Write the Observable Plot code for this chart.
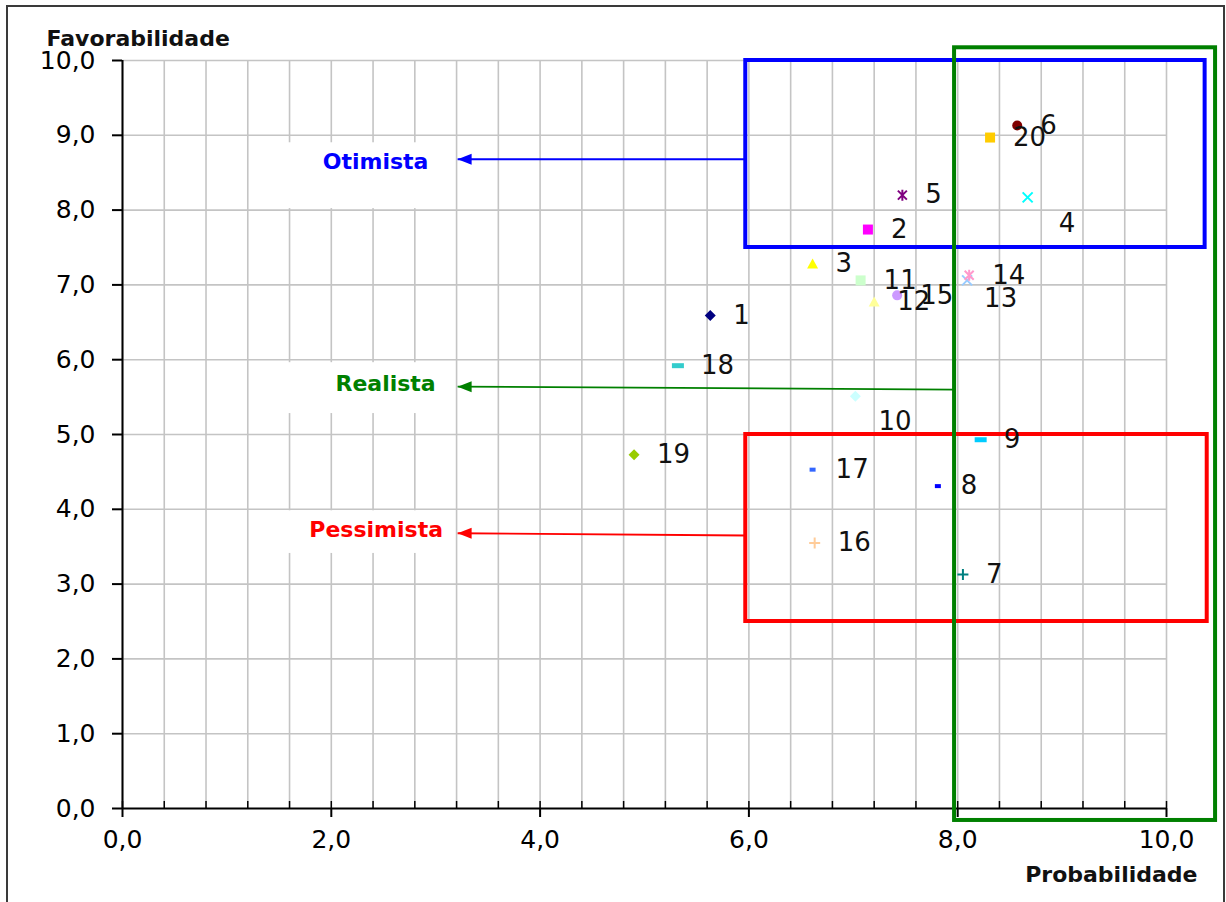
<!DOCTYPE html>
<html><head><meta charset="utf-8">
<script src="https://cdn.jsdelivr.net/npm/d3@7"></script>
<script src="https://cdn.jsdelivr.net/npm/@observablehq/plot@0.6"></script>
<style>
body{margin:0;background:#fff;}
#wrap{position:relative;width:1226px;height:902px;overflow:hidden;background:#fff;}
#borda{position:absolute;left:6px;top:5px;width:1219px;height:910px;border:2px solid #3a3a3a;box-sizing:border-box;pointer-events:none;}
</style></head>
<body><div id="wrap"><div id="borda"></div></div>
<script>
// ---- data ----
const series = ["1","2","3","4","5","6","7","8","9","10","11","12","13","14","15","16","17","18","19","20"];
const probabilidade = [5.63, 7.14, 6.61, 8.67, 7.47, 8.57, 8.05, 7.81, 8.22, 7.02, 7.07, 7.20, 8.09, 8.11, 7.42, 6.63, 6.61, 5.32, 4.90, 8.31];
const favorabilidade = [6.59, 7.74, 7.28, 8.17, 8.20, 9.13, 3.13, 4.31, 4.93, 5.51, 7.06, 6.77, 7.06, 7.13, 6.86, 3.55, 4.53, 5.92, 4.73, 8.97];
const ticksX = [0, 2, 4, 6, 8, 10];
const ticksY = [0, 1, 2, 3, 4, 5, 6, 7, 8, 9, 10];
const cenarios = ["Otimista", "Realista", "Pessimista"];
// scenario regions (data units) and the arrows to their names
const regioes = [
  {x1: 5.97, x2: 10.37, y1: 7.5, y2: 10.0},
  {x1: 5.97, x2: 10.39, y1: 2.5, y2: 5.0},
  {x1: 7.97, x2: 10.47, y1: -0.16, y2: 10.17}
];
const setas = [
  {x1: 5.97, y1: 8.68, x2: 3.21, y2: 8.68},
  {x1: 7.97, y1: 5.60, x2: 3.21, y2: 5.64},
  {x1: 5.97, y1: 3.65, x2: 3.21, y2: 3.68}
];
const posNomes = [{x: 2.93, y: 8.64}, {x: 3.00, y: 5.68}, {x: 3.07, y: 3.72}];
const fundosNomes = [
  {x1: 1.23, x2: 3.16, y1: 8.02, y2: 8.90},
  {x1: 1.23, x2: 3.16, y1: 5.28, y2: 5.96},
  {x1: 1.23, x2: 3.16, y1: 3.41, y2: 3.98}
];

// ---- styles ----
const cores = ["#000080","#FF00FF","#FFFF00","#00FFFF","#800080","#800000","#008080","#0000FF","#00CCFF","#CCFFFF",
               "#CCFFCC","#FFFF99","#99CCFF","#FF99CC","#CC99FF","#FFCC99","#3366FF","#33CCCC","#99CC00","#FFCC00"];
const tipos = ["losango","quadrado","triangulo","xis","asterisco","circulo","mais","ponto","traco","losango",
               "quadrado","triangulo","xis","asterisco","circulo","mais","ponto","traco","losango","quadrado"];
const coresCenario = ["#0000FF", "#008000", "#FF0000"];
const coresRegiao = ["#0000FF", "#FF0000", "#008000"];

const simbolos = {
  losango: {draw(c){c.moveTo(0,-5.5);c.lineTo(5.5,0);c.lineTo(0,5.5);c.lineTo(-5.5,0);c.closePath();}},
  quadrado: {draw(c){c.rect(-5,-5,10,10);}},
  triangulo: {draw(c){c.moveTo(0,-5.5);c.lineTo(5.5,4.5);c.lineTo(-5.5,4.5);c.closePath();}},
  circulo: {draw(c){c.moveTo(5,0);c.arc(0,0,5,0,2*Math.PI);c.closePath();}},
  xis: {draw(c){c.moveTo(-5,-5);c.lineTo(5,5);c.moveTo(-5,5);c.lineTo(5,-5);}},
  asterisco: {draw(c){c.moveTo(-4.5,-4.5);c.lineTo(4.5,4.5);c.moveTo(-4.5,4.5);c.lineTo(4.5,-4.5);c.moveTo(0,-5.5);c.lineTo(0,5.5);}},
  mais: {draw(c){c.moveTo(-5.5,0);c.lineTo(5.5,0);c.moveTo(0,-5.5);c.lineTo(0,5.5);}},
  ponto: {draw(c){c.rect(-3,-2,6,4);}},
  traco: {draw(c){c.rect(-6,-2.5,12,5);}}
};
const deTraco = new Set(["xis","asterisco","mais"]);
const ponta = {draw(c){c.moveTo(0,0);c.lineTo(14,-5.5);c.lineTo(14,5.5);c.closePath();}};

const fmt = d => d.toFixed(1).replace(".", ",");
const menores = d3.range(0, 26).map(i => +(i * 0.4).toFixed(1));
const idx = d3.range(series.length);
const ajustes = {"4": [8, 26], "10": [0, 25], "13": [-6, 18]};
const padrao = idx.filter(i => !(series[i] in ajustes));

const pontos = idx.map(i => {
  const t = tipos[i];
  const stroked = deTraco.has(t);
  return Plot.dot([i], {
    x: j => probabilidade[j], y: j => favorabilidade[j],
    symbol: simbolos[t], r: 5,
    fill: stroked ? "none" : cores[i],
    stroke: stroked ? cores[i] : "none",
    strokeWidth: stroked ? 2 : 0
  });
});

const rotulosAjustados = Object.entries(ajustes).map(([s, [ax, ay]]) => {
  const i = series.indexOf(s);
  return Plot.text([i], {
    x: j => probabilidade[j], y: j => favorabilidade[j], text: j => series[j],
    textAnchor: "start", dx: 23 + ax, dy: ay, fontSize: 26, fill: "#111"
  });
});

const chart = Plot.plot({
  width: 1226, height: 902,
  marginLeft: 122, marginRight: 60, marginTop: 60, marginBottom: 94,
  x: {domain: [0, 10]},
  y: {domain: [0, 10]},
  style: {fontFamily: "'DejaVu Sans', Verdana, sans-serif", background: "transparent", color: "black", overflow: "visible"},
  marks: [
    Plot.gridX(menores, {stroke: "#c4c4c4", strokeOpacity: 1, strokeWidth: 1.6}),
    Plot.gridY(ticksY.slice(1), {stroke: "#c4c4c4", strokeOpacity: 1, strokeWidth: 1.6}),
    Plot.rect(fundosNomes, {x1: "x1", x2: "x2", y1: "y1", y2: "y2", fill: "white"}),
    Plot.axisX(menores, {tickSize: -7, tickFormat: () => "", label: null, strokeWidth: 1.5}),
    Plot.axisX(ticksX, {tickSize: 9, tickPadding: 13, tickFormat: fmt, fontSize: 25, label: null, strokeWidth: 2}),
    Plot.axisY(ticksY, {tickSize: 10, tickPadding: 17, tickFormat: fmt, fontSize: 25, label: null, strokeWidth: 2}),
    Plot.ruleX([0], {stroke: "black", strokeWidth: 2}),
    Plot.ruleY([0], {stroke: "black", strokeWidth: 2}),
    Plot.link(setas, {x1: "x1", y1: "y1", x2: "x2", y2: "y2", stroke: (d, i) => coresCenario[i], strokeWidth: 1.8}),
    Plot.dot(setas, {x: "x2", y: "y2", symbol: ponta, r: 5, fill: (d, i) => coresCenario[i], stroke: "none"}),
    Plot.rect(regioes, {x1: "x1", x2: "x2", y1: "y1", y2: "y2", fill: "none", stroke: (d, i) => coresRegiao[i], strokeWidth: 4}),
    Plot.text(cenarios, {x: (d, i) => posNomes[i].x, y: (d, i) => posNomes[i].y, text: d => d,
      textAnchor: "end", fontWeight: "bold", fontSize: 22, fill: (d, i) => coresCenario[i]}),
    ...pontos,
    Plot.text(padrao, {x: j => probabilidade[j], y: j => favorabilidade[j], text: j => series[j],
      textAnchor: "start", dx: 23, fontSize: 26, fill: "#111"}),
    ...rotulosAjustados,
    Plot.text(["Favorabilidade"], {frameAnchor: "top-left", text: d => d, textAnchor: "start",
      dx: -76, dy: -30, fontWeight: "bold", fontSize: 22, fill: "#111"}),
    Plot.text(["Probabilidade"], {frameAnchor: "bottom-right", text: d => d, textAnchor: "end",
      dx: 31, dy: 73, fontWeight: "bold", fontSize: 22, fill: "#111"})
  ]
});
document.getElementById("wrap").prepend(chart);
</script>
</body></html>
